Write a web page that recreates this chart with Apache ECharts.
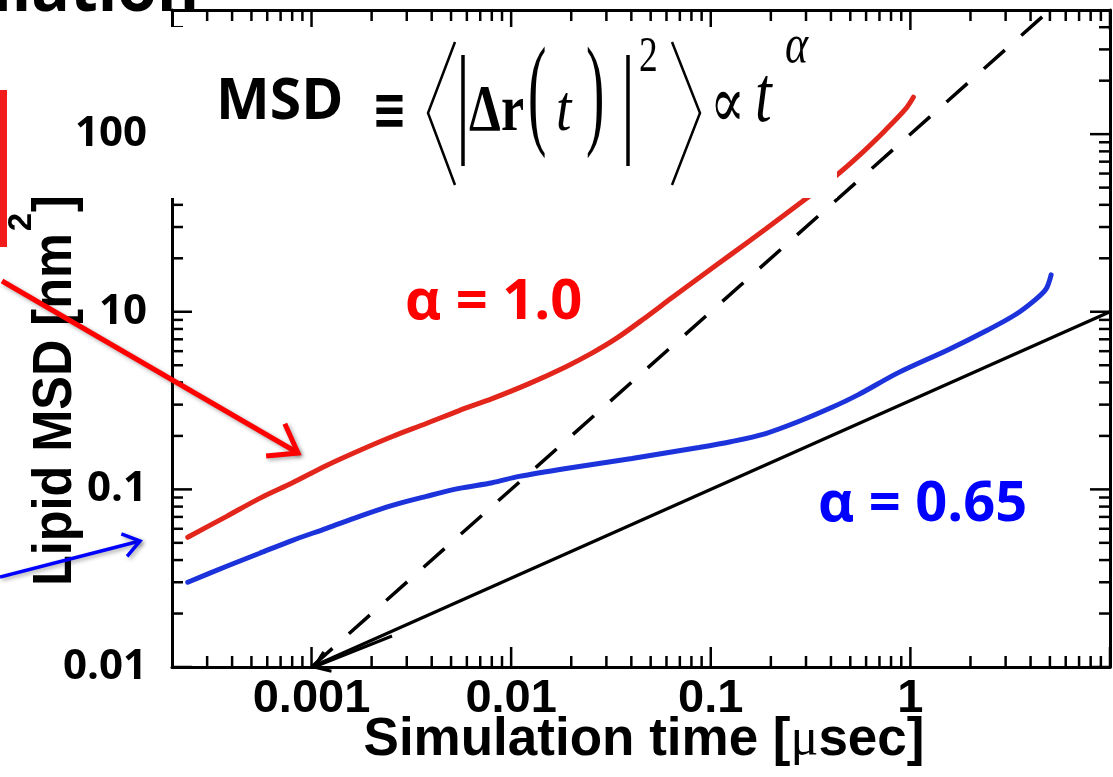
<!DOCTYPE html>
<html><head><meta charset="utf-8">
<script src="https://cdn.jsdelivr.net/npm/echarts@6/dist/echarts.min.js"></script>
<style>html,body{margin:0;padding:0;background:#fff;}#c{width:1113px;height:777px;}</style>
</head><body><div id="c"></div>
<script>
// ---------- data ----------
const redTime = [2.399e-4, 3.758e-4, 5.495e-4, 8.035e-4, 1.189e-3, 1.738e-3, 2.541e-3, 3.758e-3, 5.495e-3, 8.035e-3, 0.01230, 0.01884, 0.02512, 0.03350, 0.04624, 0.06383, 0.09016, 0.1274, 0.1884, 0.2851, 0.4217, 0.5495, 0.7499, 0.9441, 1.0351];
const redMSD  = [0.05373, 0.07052, 0.08902, 0.1090, 0.1364, 0.1656, 0.1985, 0.2348, 0.2779, 0.3245, 0.3940, 0.4910, 0.5808, 0.7052, 0.9135, 1.1986, 1.5933, 2.1180, 2.9267, 4.1500, 5.8076, 7.5212, 10.531, 13.816, 16.141];
const blueTime = [2.399e-4, 3.758e-4, 5.495e-4, 8.035e-4, 1.189e-3, 1.738e-3, 2.541e-3, 3.758e-3, 5.495e-3, 8.035e-3, 0.01096, 0.01884, 0.04027, 0.08710, 0.1274, 0.1884, 0.2754, 0.4027, 0.5495, 0.8710, 1.5488, 2.4547, 3.3497, 4.2170, 4.7863, 5.0699];
const blueMSD  = [0.03002, 0.03693, 0.04369, 0.05168, 0.06038, 0.07052, 0.08128, 0.09132, 0.1013, 0.1090, 0.1183, 0.1312, 0.1493, 0.1722, 0.1861, 0.2063, 0.2410, 0.2888, 0.3417, 0.4543, 0.6115, 0.7922, 0.9619, 1.1679, 1.3466, 1.6141];
const slopeOneTime = [0.001, 5];
const slopeOneMSD  = [0.01, 50];
const slopeHalfTime = [0.001, 10];
const slopeHalfMSD  = [0.01, 1];
const xTickValues = [0.001, 0.01, 0.1, 1];
const xTickLabels = ['0.001', '0.01', '0.1', '1'];
const yTickValues = [0.01, 0.1, 1, 10];
const yTickLabels = ['0.01', '0.1', '10', '100'];
const minorMultipliers = [2, 3, 4, 5, 6, 7, 8, 9];
const xDecades = [1e-4, 1e-3, 1e-2, 1e-1, 1, 10];
const yDecades = [1e-2, 1e-1, 1, 10];
const X_MIN = 0.0002, X_MAX = 10, Y_MIN = 0.01, Y_MAX = 50;

const xMinor = [], yMinor = [], xMajor = [], yMajor = [];
xDecades.forEach(d => { if (d > X_MIN && d <= X_MAX) xMajor.push(d);
  minorMultipliers.forEach(m => { const v = d * m; if (v > X_MIN * 1.0001 && v < X_MAX * 0.9999) xMinor.push(v); }); });
yDecades.forEach(d => { if (d >= Y_MIN && d < Y_MAX) yMajor.push(d);
  minorMultipliers.forEach(m => { const v = d * m; if (v > Y_MIN && v < Y_MAX * 0.9999) yMinor.push(v); }); });

function lookup(vals, labels) {
  return v => {
    for (let i = 0; i < vals.length; i++) if (Math.abs(Math.log10(v) - Math.log10(vals[i])) < 1e-6) return labels[i];
    return '';
  };
}
const zip = (a, b) => a.map((t, i) => [t, b[i]]);

const MAJOR = 20, MINOR = 11, TW = 2.5;
const SANS = '"Liberation Sans", Arial, sans-serif';
const CAL = '"Open Sans", "DejaVu Sans", sans-serif';
const SERIF = '"Liberation Serif", "DejaVu Serif", serif';

const chart = echarts.init(document.getElementById('c'), null, {renderer: 'canvas'});

function yTickSeries(values, len) {
  return {
    type: 'custom', xAxisIndex: 0, yAxisIndex: 0, silent: true, clip: false, z: 3,
    data: values.map(v => [X_MIN, v]),
    renderItem: (params, api) => {
      const st = {stroke: '#000', lineWidth: TW};
      const v = api.value(1);
      const l = api.coord([X_MIN, v]), r = api.coord([X_MAX, v]);
      return {type: 'group', children: [
        {type: 'line', shape: {x1: l[0], y1: l[1], x2: l[0] + len, y2: l[1]}, style: st},
        {type: 'line', shape: {x1: r[0], y1: r[1], x2: r[0] - len, y2: r[1]}, style: st}
      ]};
    }
  };
}

const axisCommon = {
  type: 'log', logBase: 10,
  axisLine: {show: true, onZero: false, lineStyle: {color: '#000', width: 3}},
  axisTick: {show: false},
  splitLine: {show: false}, minorTick: {show: false}
};

const option = {
  animation: false,
  backgroundColor: '#fff',
  grid: {left: 172, right: 1, top: 10, bottom: 110, containLabel: false},
  xAxis: [
    Object.assign({}, axisCommon, {min: X_MIN, max: X_MAX, position: 'bottom',
      axisLabel: {show: true, margin: 9, color: '#000', fontSize: 47, fontWeight: 'bold', fontFamily: SANS,
        formatter: lookup(xTickValues, xTickLabels), showMinLabel: true, showMaxLabel: true}}),
    Object.assign({}, axisCommon, {min: X_MIN, max: X_MAX, position: 'top', axisLabel: {show: false}})
  ],
  yAxis: [
    Object.assign({}, axisCommon, {min: Y_MIN, max: Y_MAX, position: 'left',
      axisLabel: {show: true, margin: 25, color: '#000', fontSize: 42, fontWeight: 'bold', fontFamily: CAL,
        formatter: lookup(yTickValues, yTickLabels), showMinLabel: true, showMaxLabel: true}}),
    Object.assign({}, axisCommon, {min: Y_MIN, max: Y_MAX, position: 'right', axisLabel: {show: false}})
  ],
  series: [
    yTickSeries(yMinor, MINOR),
    yTickSeries(yMajor, MAJOR),
    {type: 'line', name: 'slope 1', data: zip(slopeOneTime, slopeOneMSD), showSymbol: false, z: 4,
      lineStyle: {color: '#000', width: 3.5, type: [28, 22]}},
    {type: 'line', name: 'slope 0.5', data: zip(slopeHalfTime, slopeHalfMSD), showSymbol: false, z: 4,
      lineStyle: {color: '#000', width: 3.2}},
    {type: 'line', name: 'red', data: zip(redTime, redMSD), showSymbol: false, smooth: 0.3, z: 5,
      lineStyle: {color: '#e3261b', width: 5, cap: 'round'}},
    {type: 'line', name: 'blue', data: zip(blueTime, blueMSD), showSymbol: false, smooth: 0.3, z: 5,
      lineStyle: {color: '#1c33dc', width: 5, cap: 'round'}}
  ]
};
chart.setOption(option);

// ---------- graphics (annotations) ----------
const mctx = document.createElement('canvas').getContext('2d');
function tw(text, font) { mctx.font = font; return mctx.measureText(text).width; }
function txt(o) {
  return {type: 'text', x: o.x, y: o.y, rotation: o.rot || 0, scaleX: o.sx || 1, scaleY: o.sy || 1, z: o.z || 110,
    style: {text: o.t, fontSize: o.size, fontFamily: o.fam, fontWeight: o.w || 'normal', fontStyle: o.st || 'normal',
      fill: o.fill || '#000', align: o.align || 'left', textAlign: o.align || 'left',
      verticalAlign: o.va || 'middle', textVerticalAlign: o.va || 'middle'}};
}
function arrow(x1, y1, x2, y2, color, width, head, shadow) {
  const a = Math.atan2(y2 - y1, x2 - x1), s = 0.62;
  const p1 = [x2 - head * Math.cos(a - s), y2 - head * Math.sin(a - s)];
  const p2 = [x2 - head * Math.cos(a + s), y2 - head * Math.sin(a + s)];
  const sh = shadow ? {shadowBlur: 4, shadowColor: 'rgba(0,0,0,0.35)', shadowOffsetX: 2, shadowOffsetY: 2} : {};
  return [
    {type: 'line', z: 120, shape: {x1, y1, x2, y2}, style: Object.assign({stroke: color, lineWidth: width, lineCap: 'butt'}, sh)},
    {type: 'polyline', z: 120, shape: {points: [p1, [x2, y2], p2]}, style: Object.assign({stroke: color, lineWidth: width, fill: 'transparent', lineJoin: 'miter'}, sh)}
  ];
}

const g = [];
// x-axis ticks (bottom and top), positioned through the chart's own log scale
[[xMajor, MAJOR], [xMinor, MINOR]].forEach(([vals, len]) => vals.forEach(v => {
  const b = chart.convertToPixel({xAxisIndex: 0, yAxisIndex: 0}, [v, Y_MIN]);
  const t = chart.convertToPixel({xAxisIndex: 0, yAxisIndex: 0}, [v, Y_MAX]);
  const st = {stroke: '#000', lineWidth: TW};
  g.push({type: 'line', z: 50, shape: {x1: b[0], y1: b[1], x2: b[0], y2: b[1] - len}, style: st});
  g.push({type: 'line', z: 50, shape: {x1: t[0], y1: t[1], x2: t[0], y2: t[1] + len}, style: st});
}));

// white overlay box for the formula
g.push({type: 'rect', z: 100, shape: {x: 165, y: 27, width: 672, height: 171}, style: {fill: '#fff'}});
// red image fragment at left edge
g.push({type: 'rect', z: 100, shape: {x: 0, y: 90, width: 7, height: 157}, style: {fill: '#f21c1c'}});
// clipped slide title
g.push(txt({t: 'Simulation', x: 199, y: -7, size: 64, fam: CAL, w: 'bold', align: 'right'}));
// formula
g.push(txt({t: 'MSD', x: 216, y: 103, size: 57, fam: CAL, w: 'bold'}));
g.push(txt({t: '\u2261', x: 372, y: 114, size: 58, fam: '"DejaVu Sans", sans-serif', w: 'bold', sx: 0.72}));
const delim = {stroke: '#000', lineWidth: 2.5, fill: 'transparent', lineJoin: 'miter'};
g.push({type: 'polyline', z: 110, shape: {points: [[455, 42], [428, 113], [455, 185]]}, style: delim});
g.push({type: 'polyline', z: 110, shape: {points: [[672, 42], [700, 113], [672, 185]]}, style: delim});
g.push({type: 'line', z: 110, shape: {x1: 463, y1: 55, x2: 463, y2: 166}, style: {stroke: '#000', lineWidth: 3.5}});
g.push({type: 'line', z: 110, shape: {x1: 628, y1: 55, x2: 628, y2: 166}, style: {stroke: '#000', lineWidth: 3.5}});
g.push(txt({t: '\u0394', x: 469, y: 113, size: 65, fam: SERIF, w: 'bold', sx: 0.78}));
g.push(txt({t: 'r', x: 501, y: 113, size: 65, fam: SERIF, w: 'bold', sx: 0.8}));
g.push(txt({t: '(', x: 528, y: 100, size: 65, fam: SERIF, sx: 0.85, sy: 1.9}));
g.push(txt({t: 't', x: 556, y: 113, size: 65, fam: SERIF, st: 'italic', sx: 0.85}));
g.push(txt({t: ')', x: 586, y: 100, size: 65, fam: SERIF, sx: 0.85, sy: 1.9}));
g.push(txt({t: '2', x: 639, y: 58, size: 50, fam: SERIF, sx: 0.75}));
g.push(txt({t: '\u221D', x: 710, y: 108, size: 72, fam: SERIF, sx: 0.72}));
g.push(txt({t: 't', x: 755, y: 100, size: 80, fam: SERIF, st: 'italic', sx: 0.75}));
g.push(txt({t: '\u03B1', x: 785, y: 48, size: 55, fam: SERIF, st: 'italic', sx: 0.8}));
// alpha labels
g.push(txt({t: '\u03B1 = 1.0', x: 405, y: 303, size: 56, fam: CAL, w: 'bold', fill: '#ff0000'}));
g.push(txt({t: '\u03B1 = 0.65', x: 818, y: 505, size: 56, fam: CAL, w: 'bold', fill: '#0000ff'}));
// x axis title
g.push({type: 'text', x: 644, y: 740, z: 110, style: {
  text: '{a|Simulation time [}{m|\u03BC}{a|sec]}', align: 'center', textAlign: 'center', verticalAlign: 'middle', textVerticalAlign: 'middle',
  rich: {a: {fontSize: 53, fontFamily: SANS, fontWeight: 'bold', fill: '#000', color: '#000'},
         m: {fontSize: 52, fontFamily: SERIF, fontWeight: 'normal', fill: '#000', color: '#000'}}}});
// y axis title (rotated) with superscript
const yFont = 56, ySX = 0.9, supFont = 33;
const wA = tw('Lipid MSD [nm', 'bold ' + yFont + 'px ' + SANS) * ySX;
const w2 = tw('2', 'bold ' + supFont + 'px ' + SANS);
const yStart = 586;
g.push(txt({t: 'Lipid MSD [nm', x: 56, y: yStart, rot: Math.PI / 2, size: yFont, fam: SANS, w: 'bold', sx: ySX}));
g.push(txt({t: '2', x: 22, y: yStart - wA - 2, rot: Math.PI / 2, size: supFont, fam: SANS, w: 'bold'}));
g.push(txt({t: ']', x: 56, y: yStart - wA - w2 - 3, rot: Math.PI / 2, size: yFont, fam: SANS, w: 'bold', sx: ySX}));
// arrows
arrow(2, 281, 298, 453, '#ff0000', 5, 32, true).forEach(e => g.push(e));
arrow(0, 577, 140, 541, '#0000ff', 3.5, 20, true).forEach(e => g.push(e));
arrow(392, 636, 314, 667, '#000000', 3, 18, false).forEach(e => g.push(e));

chart.setOption({graphic: {elements: g}});
</script></body></html>
